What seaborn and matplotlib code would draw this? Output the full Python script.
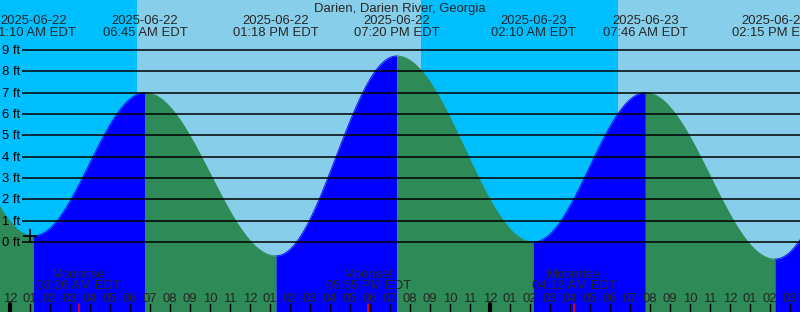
import numpy as np
import pandas as pd
import matplotlib
matplotlib.use("Agg")
import matplotlib.pyplot as plt
import seaborn as sns

# ---------------- data ----------------
title = "Darien, Darien River, Georgia"
origin = pd.Timestamp("2025-06-22 00:00")

# tide extremes (first and last lie just outside the view and shape the edges)
tide_times = ["2025-06-21 18:55", "2025-06-22 01:10", "2025-06-22 06:45",
              "2025-06-22 13:18", "2025-06-22 19:20", "2025-06-23 02:10",
              "2025-06-23 07:46", "2025-06-23 14:15", "2025-06-23 20:25"]
tide_heights = [8.5, 0.28, 7.0, -0.65, 8.72, 0.0, 7.0, -0.8, 8.4]
tide_dates = [None, "2025-06-22", "2025-06-22", "2025-06-22", "2025-06-22",
              "2025-06-23", "2025-06-23", "2025-06-23", None]
tide_labels = [None, "01:10 AM EDT", "06:45 AM EDT", "01:18 PM EDT",
               "07:20 PM EDT", "02:10 AM EDT", "07:46 AM EDT",
               "02:15 PM EDT", None]

sun_times = ["2025-06-22 06:20", "2025-06-22 20:33", "2025-06-23 06:23"]
sun_events = ["sunrise", "sunset", "sunrise"]

moon_times = ["2025-06-22 03:26", "2025-06-22 17:55", "2025-06-23 04:12"]
moon_events = ["Moonrise", "Moonset", "Moonrise"]
moon_labels = ["03:26 AM EDT", "05:55 PM EDT", "04:12 AM EDT"]

now_time = "2025-06-22 01:00"

feet_levels = list(range(0, 10))
hour_labels = ["12", "01", "02", "03", "04", "05", "06", "07", "08", "09", "10", "11"]

# ---------------- helpers ----------------
def hrs(s):
    return (pd.Timestamp(s) - origin) / pd.Timedelta(hours=1)

t_ext = np.array([hrs(s) for s in tide_times])
h_ext = np.array(tide_heights)

def tide_at(t):
    i = np.searchsorted(t_ext, t) - 1
    i = np.clip(i, 0, len(t_ext) - 2)
    t0, t1 = t_ext[i], t_ext[i + 1]
    h0, h1 = h_ext[i], h_ext[i + 1]
    f = (t - t0) / (t1 - t0)
    return h0 + (h1 - h0) * (1 - np.cos(np.pi * f)) / 2

# pixel geometry: 20 px per hour, x=10 px at midnight; 0 ft at y=242, 9 ft at y=50
W, H = 800, 312
px_per_hr = 20.0
px_per_ft = (242 - 50) / 9.0
xmin = -10 / px_per_hr
xmax = xmin + W / px_per_hr
ytop = 242 / px_per_ft
ybot = -(H - 242) / px_per_ft

def py(ypx):
    return (242 - ypx) / px_per_ft

def px(xpx):
    return xmin + xpx / px_per_hr

# ---------------- figure ----------------
sns.set_style("white")
plt.rcParams["font.family"] = ["Liberation Sans", "DejaVu Sans"]
FS = 9.4

fig = plt.figure(figsize=(W / 100, H / 100), dpi=100)
ax = fig.add_axes([0, 0, 1, 1])
ax.set_xlim(xmin, xmax)
ax.set_ylim(ybot, ytop)
ax.axis("off")

NIGHT = "#00BFFF"
DAY = "#87CEEB"
RISE = "#0000FF"
FALL = "#2E8B57"

# sky background
sun_h = [hrs(s) for s in sun_times]
edges = [xmin] + sun_h + [xmax]
state = "night" if sun_events[0] == "sunrise" else "day"
for a, b in zip(edges[:-1], edges[1:]):
    ax.axvspan(a, b, color=NIGHT if state == "night" else DAY, lw=0, zorder=0)
    state = "day" if state == "night" else "night"

# tide curve, segmented by rising / falling
rows = []
for i in range(len(t_ext) - 1):
    t0, t1 = t_ext[i], t_ext[i + 1]
    lo, hi = max(t0, xmin - 0.5), min(t1, xmax + 0.5)
    if hi <= lo:
        continue
    ts = np.linspace(lo, hi, 120)
    hs = tide_at(ts)
    phase = "rising" if h_ext[i + 1] > h_ext[i] else "falling"
    ax.fill_between(ts, ybot, hs, color=RISE if phase == "rising" else FALL,
                    lw=0, zorder=1)
    for t, h in zip(ts, hs):
        rows.append({"t": t, "h": h, "seg": i, "phase": phase})
df = pd.DataFrame(rows)
sns.lineplot(data=df, x="t", y="h", hue="phase", units="seg", estimator=None,
             palette={"rising": RISE, "falling": FALL}, lw=0.6, legend=False,
             ax=ax, zorder=2, sort=False)

# feet lines and labels
for ft in feet_levels:
    ax.hlines(ft, px(22), xmax, color="black", lw=1.1, zorder=3)
    ax.text(px(20), ft - 4 / px_per_ft, f"{ft} ft", ha="right", va="baseline",
            fontsize=FS, color="black", zorder=4)

# title
ax.text(px(400), py(12), title, ha="center", va="baseline", fontsize=FS, zorder=5)

# tide labels
for t, d, lab in zip(t_ext, tide_dates, tide_labels):
    if lab is None:
        continue
    ax.text(t, py(24), d, ha="center", va="baseline", fontsize=FS, zorder=5)
    ax.text(t, py(36), lab, ha="center", va="baseline", fontsize=FS, zorder=5)

# now marker
tn = hrs(now_time)
ax.plot([tn], [tide_at(tn)], marker="+", ms=10, mew=1.2, color="black", zorder=6)

# hour ticks and labels
tick_len = 8 / H
for hr in range(int(np.ceil(xmin)), int(np.floor(xmax)) + 1):
    midnight = hr % 24 == 0
    ax.axvline(hr, 0, tick_len, color="black", lw=3 if midnight else 1,
               zorder=5)
    ax.text(hr, py(302), hour_labels[hr % 12], ha="center", va="baseline",
            fontsize=FS, zorder=5)

# moon events
for s, ev, lab in zip(moon_times, moon_events, moon_labels):
    tm = hrs(s)
    ax.axvline(tm, 0, tick_len, color="red", lw=1.2, zorder=6)
    ax.text(tm, py(277.5), ev, ha="center", va="baseline", fontsize=FS, zorder=5)
    ax.text(tm, py(289.3), lab, ha="center", va="baseline", fontsize=FS, zorder=5)

fig.savefig("out.png", dpi=100)
